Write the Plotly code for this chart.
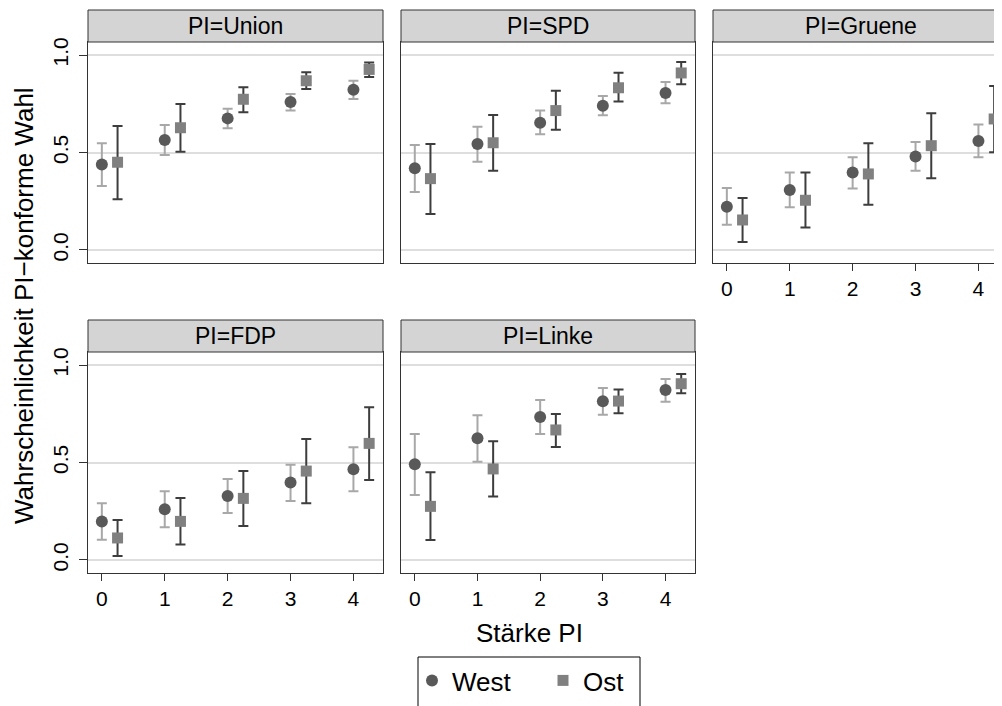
import plotly.graph_objects as go

# ---------------- data ----------------
parties = ["Union", "SPD", "Gruene", "FDP", "Linke"]
strength = [0, 1, 2, 3, 4]
strength_labels = ["0", "1", "2", "3", "4"]
y_ticks = [0.0, 0.5, 1.0]
y_tick_labels = ["0.0", "0.5", "1.0"]

west_est = [
    [0.439, 0.564, 0.675, 0.759, 0.822],   # Union
    [0.419, 0.544, 0.653, 0.740, 0.805],   # SPD
    [0.222, 0.308, 0.397, 0.480, 0.559],   # Gruene
    [0.198, 0.260, 0.328, 0.397, 0.465],   # FDP
    [0.491, 0.624, 0.733, 0.814, 0.872],   # Linke
]
west_lo = [
    [0.328, 0.487, 0.624, 0.716, 0.774],
    [0.297, 0.453, 0.593, 0.691, 0.752],
    [0.130, 0.219, 0.316, 0.407, 0.475],
    [0.104, 0.168, 0.241, 0.303, 0.352],
    [0.333, 0.504, 0.646, 0.745, 0.812],
]
west_hi = [
    [0.547, 0.641, 0.725, 0.800, 0.868],
    [0.538, 0.632, 0.716, 0.790, 0.862],
    [0.318, 0.397, 0.475, 0.554, 0.644],
    [0.291, 0.352, 0.415, 0.489, 0.578],
    [0.646, 0.742, 0.821, 0.882, 0.928],
]
ost_est = [
    [0.450, 0.627, 0.773, 0.868, 0.926],
    [0.366, 0.550, 0.715, 0.832, 0.908],
    [0.154, 0.255, 0.390, 0.535, 0.672],
    [0.113, 0.198, 0.316, 0.456, 0.598],
    [0.275, 0.467, 0.667, 0.815, 0.904],
]
ost_lo = [
    [0.260, 0.504, 0.706, 0.826, 0.887],
    [0.185, 0.407, 0.617, 0.761, 0.850],
    [0.041, 0.115, 0.232, 0.368, 0.501],
    [0.021, 0.080, 0.174, 0.291, 0.410],
    [0.103, 0.325, 0.579, 0.752, 0.855],
]
ost_hi = [
    [0.636, 0.749, 0.834, 0.911, 0.962],
    [0.544, 0.692, 0.817, 0.909, 0.964],
    [0.267, 0.397, 0.547, 0.701, 0.841],
    [0.205, 0.318, 0.456, 0.621, 0.783],
    [0.450, 0.609, 0.749, 0.874, 0.954],
]

# ---------------- styling ----------------
W, H = 1002, 706
FONT = "Liberation Sans, Arial, Helvetica, sans-serif"
FRAME = "#333333"
GRID = "#dedede"
STRIP_FILL = "#d4d4d4"
WEST_MARK = "#595959"
WEST_ERR = "#a8a8a8"
OST_MARK = "#808080"
OST_ERR = "#3d3d3d"
OST_OFFSET = 0.25
PAGE_OFF = 8  # page body margin: screen position = figure position + 8

def px_x(v):
    return (v - PAGE_OFF) / W

def px_y(v):
    return (H - (v - PAGE_OFF)) / H

# panel screen-pixel geometry
col_px = [(88, 383), (401, 695), (713, 1008)]
row_px = [(42, 263, 10), (352, 573, 320)]
layout_pos = [(0, 0), (0, 1), (0, 2), (1, 0), (1, 1)]
x_range = [-0.22, 4.47]
y_range = [-0.0667, 1.0667]

fig = go.Figure()
layout = dict(
    width=W, height=H,
    margin=dict(l=0, r=0, t=0, b=0),
    paper_bgcolor="white", plot_bgcolor="white",
    font=dict(family=FONT, color="black", size=21),
    showlegend=True,
)
shapes = []
annotations = []

for i, party in enumerate(parties):
    r, c = layout_pos[i]
    left, right = col_px[c]
    top, bottom, strip_top = row_px[r]
    n = "" if i == 0 else str(i + 1)
    xa, ya = "x" + n, "y" + n

    show_xlab = (r == 1) or (c == 2)
    show_ylab = (c == 0)

    layout["xaxis" + n] = dict(
        domain=[px_x(left), min(px_x(right), 1.0)], anchor=ya, range=x_range,
        tickvals=strength, ticktext=strength_labels,
        showticklabels=show_xlab, ticks="outside" if show_xlab else "",
        ticklen=7, tickcolor=FRAME, tickwidth=1,
        showgrid=False, zeroline=False, showline=True, linecolor=FRAME,
        linewidth=1, mirror=True, tickfont=dict(size=21, family=FONT),
        fixedrange=True, automargin=False,
    )
    layout["yaxis" + n] = dict(
        domain=[px_y(bottom), px_y(top)], anchor=xa, range=y_range,
        tickvals=y_ticks, ticktext=y_tick_labels,
        showticklabels=show_ylab, ticks="outside" if show_ylab else "",
        ticklen=8, tickcolor=FRAME, tickwidth=1, tickangle=-90,
        ticklabelstandoff=3,
        showgrid=True, gridcolor=GRID, gridwidth=1.5,
        zeroline=False, showline=True, linecolor=FRAME, linewidth=1,
        mirror=True, tickfont=dict(size=21, family=FONT),
        fixedrange=True, automargin=False,
    )

    # strip header
    shapes.append(dict(
        type="rect", xref="paper", yref="paper",
        x0=px_x(left), x1=min(px_x(right), 1.0),
        y0=px_y(top), y1=px_y(strip_top),
        fillcolor=STRIP_FILL, line=dict(color=FRAME, width=1), layer="above",
    ))
    annotations.append(dict(
        text="PI=" + party, xref="paper", yref="paper",
        x=px_x((left + right) / 2), y=px_y((top + strip_top) / 2),
        xanchor="center", yanchor="middle", showarrow=False,
        font=dict(size=23, family=FONT, color="black"),
    ))

    we = west_est[i]
    oe = ost_est[i]
    fig.add_trace(go.Scatter(
        x=strength, y=we, mode="markers", name="West",
        xaxis=xa, yaxis=ya, showlegend=(i == 0), legendrank=1,
        marker=dict(symbol="circle", size=12, color=WEST_MARK),
        error_y=dict(type="data", symmetric=False,
                     array=[h - e for h, e in zip(west_hi[i], we)],
                     arrayminus=[e - l for e, l in zip(we, west_lo[i])],
                     color=WEST_ERR, thickness=2, width=5),
    ))
    fig.add_trace(go.Scatter(
        x=[s + OST_OFFSET for s in strength], y=oe, mode="markers", name="Ost",
        xaxis=xa, yaxis=ya, showlegend=(i == 0), legendrank=2,
        marker=dict(symbol="square", size=11, color=OST_MARK),
        error_y=dict(type="data", symmetric=False,
                     array=[h - e for h, e in zip(ost_hi[i], oe)],
                     arrayminus=[e - l for e, l in zip(oe, ost_lo[i])],
                     color=OST_ERR, thickness=2, width=5),
    ))

# axis titles
annotations.append(dict(
    text="Stärke PI", xref="paper", yref="paper",
    x=px_x(529), y=px_y(633), xanchor="center", yanchor="middle",
    showarrow=False, font=dict(size=26, family=FONT, color="black"),
))
annotations.append(dict(
    text="Wahrscheinlichkeit PI\u2212konforme Wahl", xref="paper", yref="paper",
    x=px_x(24), y=px_y(306), xanchor="center", yanchor="middle",
    textangle=-90, showarrow=False,
    font=dict(size=26, family=FONT, color="black"),
))

# legend frame (bottom edge runs off the page as in the reference)
shapes.append(dict(
    type="rect", xref="paper", yref="paper",
    x0=px_x(418), x1=px_x(640), y0=-0.05, y1=px_y(657),
    line=dict(color="black", width=1), fillcolor="rgba(0,0,0,0)", layer="above",
))

layout["shapes"] = shapes
layout["annotations"] = annotations
layout["legend"] = dict(
    orientation="h", x=px_x(412), xanchor="left", y=px_y(657), yanchor="top",
    borderwidth=0, bgcolor="rgba(0,0,0,0)",
    font=dict(size=26, family=FONT, color="black"),
    entrywidth=86, entrywidthmode="pixels", traceorder="normal",
)
fig.update_layout(**layout)
fig.write_html("out.html")
